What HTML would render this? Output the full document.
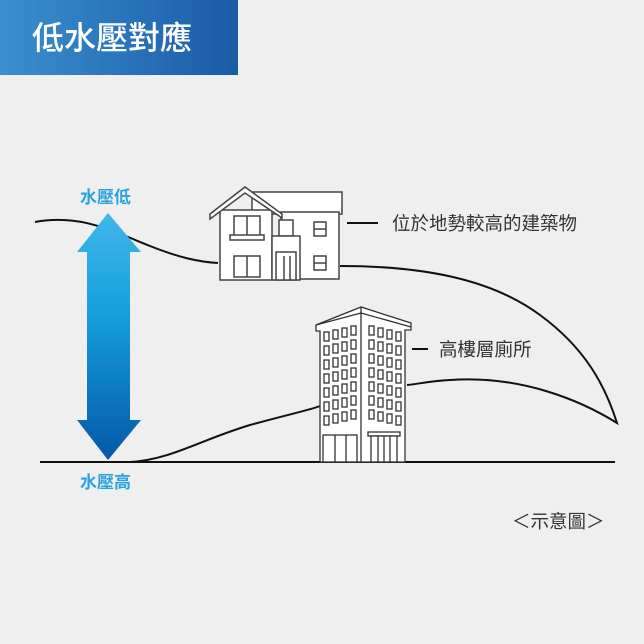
<!DOCTYPE html>
<html><head><meta charset="utf-8"><style>
body{margin:0;background:#efefef;}
svg{display:block}
text{font-family:"Liberation Sans","Noto Sans CJK TC",sans-serif;}
</style></head><body>
<svg width="644" height="644" viewBox="0 0 644 644" xmlns="http://www.w3.org/2000/svg">
<defs>
<linearGradient id="hg" x1="0" x2="1" y1="0" y2="0"><stop offset="0" stop-color="#3a8fd0"/><stop offset="1" stop-color="#1a5ba6"/></linearGradient>
<linearGradient id="ag" x1="0" x2="0" y1="0" y2="1"><stop offset="0" stop-color="#42b6ea"/><stop offset="0.4" stop-color="#15a0dc"/><stop offset="1" stop-color="#0558a8"/></linearGradient>
</defs>
<rect width="644" height="644" fill="#efefef"/>
<rect x="0" y="0" width="238" height="75" fill="url(#hg)"/>
<text x="32" y="49" font-size="32" fill="#fff" font-weight="500">低水壓對應</text>

<g fill="none" stroke="#111" stroke-width="2">
<path d="M35 222 C80 214 110 230 150 246 C180 258 200 262 218 263"/>
<path d="M340 266 C420 266 490 278 540 315 C585 348 605 385 617 423 C580 400 520 375 450 380 C430 381 418 384 407 385"/>
<path d="M130 462 C170 460 200 440 250 425 C290 414 310 410 320 406"/>
<line x1="40" y1="462" x2="615" y2="462"/>
<line x1="347" y1="223" x2="378" y2="223"/>
<line x1="412" y1="349" x2="428" y2="349"/>
</g>

<path d="M108 213 L141 252 L130 252 L130 420 L141 420 L108 460 L77 420 L87 420 L87 252 L77 252 Z" fill="url(#ag)"/>
<text x="80" y="203" font-size="17" fill="#2aa3dc" font-weight="bold">水壓低</text>
<text x="80" y="488" font-size="17" fill="#2aa3dc" font-weight="bold">水壓高</text>

<g stroke="#444" stroke-width="1.5" fill="#fff">
<rect x="252" y="192" width="90" height="22"/>
<rect x="281" y="212" width="58" height="67"/>
<rect x="220" y="210" width="52" height="70"/>
<path d="M210 214 L245 187 L282 214 L282 218 L245 193 L210 219 Z"/>
<rect x="279" y="220" width="14" height="16"/>
<rect x="272" y="236" width="28" height="44"/>
<rect x="276" y="252" width="20" height="28"/>
<line x1="284" y1="256" x2="284" y2="280"/><line x1="290" y1="256" x2="290" y2="280"/>
<rect x="234" y="216" width="26" height="20"/><line x1="247" y1="216" x2="247" y2="236"/>
<rect x="230" y="235" width="34" height="5"/>
<rect x="234" y="256" width="26" height="21"/><line x1="247" y1="256" x2="247" y2="277"/>
<rect x="314" y="222" width="12" height="14"/><line x1="314" y1="229" x2="326" y2="229"/>
<rect x="314" y="256" width="12" height="14"/><line x1="314" y1="263" x2="326" y2="263"/>
</g>
<text x="392" y="230" font-size="18.5" fill="#333">位於地勢較高的建築物</text>

<g stroke="#333" stroke-width="1.3" fill="#fff">
<path d="M316 325 L361 307 L411 323 L411 330 L405 330 L405 462 L361 462 L320 462 L320 331 L316 331 Z"/>
<line x1="361" y1="307" x2="361" y2="462"/>
<line x1="316" y1="325" x2="361" y2="313"/><line x1="361" y1="313" x2="411" y2="327"/>
<g id="wl">
<rect x="324" y="332" width="5" height="9"/><rect x="333" y="330" width="5" height="9"/><rect x="342" y="328" width="5" height="9"/><rect x="351" y="326" width="5" height="9"/>
<rect x="369" y="326" width="5" height="9"/><rect x="378" y="328" width="5" height="9"/><rect x="387" y="330" width="5" height="9"/><rect x="396" y="332" width="5" height="9"/>
</g>
<use href="#wl" y="14"/><use href="#wl" y="28"/><use href="#wl" y="42"/><use href="#wl" y="56"/><use href="#wl" y="70"/><use href="#wl" y="84"/>
<rect x="323" y="435" width="34" height="27"/><line x1="335" y1="435" x2="335" y2="462"/><line x1="346" y1="435" x2="346" y2="462"/>
<rect x="368" y="432" width="32" height="4"/><rect x="371" y="436" width="26" height="26"/>
<line x1="378" y1="436" x2="378" y2="462"/><line x1="384" y1="436" x2="384" y2="462"/><line x1="390" y1="436" x2="390" y2="462"/>
</g>
<text x="439" y="356" font-size="18.5" fill="#333">高樓層廁所</text>

<text x="512" y="528" font-size="18.5" fill="#333">＜示意圖＞</text>
</svg>
</body></html>
